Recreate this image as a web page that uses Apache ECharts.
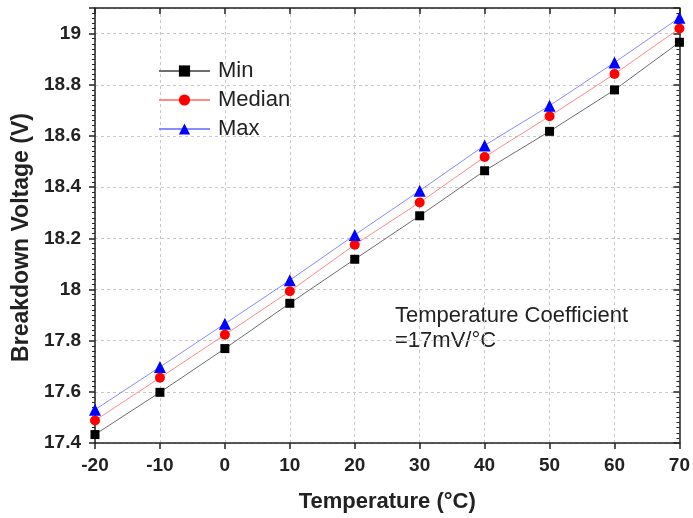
<!DOCTYPE html>
<html>
<head>
<meta charset="utf-8">
<script src="https://cdn.jsdelivr.net/npm/echarts@6/dist/echarts.min.js"></script>
<style>html,body{margin:0;padding:0;background:#fff}#c{width:693px;height:518px}</style>
</head>
<body>
<div id="c"></div>
<script>
var temperatures = [-20, -10, 0, 10, 20, 30, 40, 50, 60, 70];
var minValues    = [17.433, 17.598, 17.769, 17.946, 18.118, 18.288, 18.464, 18.618, 18.780, 18.966];
var medianValues = [17.488, 17.655, 17.823, 17.993, 18.175, 18.340, 18.518, 18.677, 18.842, 19.020];
var maxValues    = [17.530, 17.697, 17.866, 18.036, 18.213, 18.386, 18.563, 18.718, 18.887, 19.062];
var seriesNames = ['Min', 'Median', 'Max'];
var annotationLines = ['Temperature Coefficient', '=17mV/°C'];

function pairs(vals) { return temperatures.map(function (t, i) { return [t, vals[i]]; }); }

var font = 'Liberation Sans, Arial, sans-serif';
var chart = echarts.init(document.getElementById('c'));
var yFmt = function (v) {
  var k = Math.round(v / 0.2);
  if (Math.abs(v - k * 0.2) > 1e-6) return '';
  return String(parseFloat(v.toFixed(1)));
};
var gridLine = { show: true, lineStyle: { color: '#c8c8c8', type: [3, 3], width: 1 } };
chart.setOption({
  animation: false,
  backgroundColor: '#fff',
  grid: { left: 95, right: 12, top: 8, bottom: 71, show: false },
  legend: {
    orient: 'vertical', left: 153, top: 55,
    itemWidth: 51, itemHeight: 14, itemGap: 7,
    textStyle: { fontFamily: font, fontSize: 22, color: '#222', padding: [0, 0, 0, 3] },
    data: seriesNames
  },
  xAxis: [{
    type: 'value', min: -20, max: 70, interval: 10, position: 'bottom',
    name: 'Temperature (°C)', nameLocation: 'middle', nameGap: 48,
    nameTextStyle: { fontFamily: font, fontSize: 22, fontWeight: 'bold', color: '#222' },
    axisLine: { show: true, onZero: false, lineStyle: { color: '#222', width: 1.5 } },
    axisTick: { show: true, inside: false, length: 6, lineStyle: { color: '#222', width: 1.5 } },
    axisLabel: { margin: 13, fontFamily: font, fontSize: 19, fontWeight: 'bold', color: '#222' },
    splitLine: gridLine
  }, {
    type: 'value', min: -20, max: 70, interval: 10, position: 'top',
    axisLine: { show: true, onZero: false, lineStyle: { color: '#222', width: 1.5 } },
    axisTick: { show: true, inside: true, length: 6, lineStyle: { color: '#222', width: 1.5 } },
    axisLabel: { show: false }, splitLine: { show: false }
  }],
  yAxis: [{
    type: 'value', min: 17.4, max: 19.1, interval: 0.2, position: 'left',
    name: 'Breakdown Voltage (V)', nameLocation: 'middle', nameGap: 59,
    nameTextStyle: { fontFamily: font, fontSize: 23, fontWeight: 'bold', color: '#222', padding: [0, 24, 0, 0] },
    axisLine: { show: true, onZero: false, lineStyle: { color: '#222', width: 1.5 } },
    axisTick: { show: true, inside: false, length: 6, lineStyle: { color: '#222', width: 1.5 } },
    minorTick: { show: true, splitNumber: 10, length: 3, lineStyle: { color: '#222', width: 1 } },
    axisLabel: { margin: 14, fontFamily: font, fontSize: 19, fontWeight: 'bold', color: '#222', formatter: yFmt, showMaxLabel: false },
    splitLine: gridLine
  }, {
    type: 'value', min: 17.4, max: 19.1, interval: 0.2, position: 'right',
    axisLine: { show: true, onZero: false, lineStyle: { color: '#222', width: 1.5 } },
    axisTick: { show: true, inside: true, length: 6, lineStyle: { color: '#222', width: 1.5 } },
    minorTick: { show: true, splitNumber: 10, length: 3, lineStyle: { color: '#222', width: 1 } },
    axisLabel: { show: false }, splitLine: { show: false }
  }],
  graphic: [{
    type: 'text', left: 395, top: 303,
    style: { text: annotationLines.join('\n'), fontFamily: font, fontSize: 22, lineHeight: 25, fill: '#222' }
  }],
  series: [{
    name: seriesNames[0], type: 'line', data: pairs(minValues),
    symbol: 'rect', symbolSize: 9,
    itemStyle: { color: '#000' }, lineStyle: { color: '#6e6e6e', width: 1 }
  }, {
    name: seriesNames[1], type: 'line', data: pairs(medianValues),
    symbol: 'circle', symbolSize: 10,
    itemStyle: { color: '#ff0000' }, lineStyle: { color: '#ff8a8a', width: 1 }
  }, {
    name: seriesNames[2], type: 'line', data: pairs(maxValues),
    symbol: 'triangle', symbolSize: 12,
    itemStyle: { color: '#0000ff' }, lineStyle: { color: '#8a8aff', width: 1 }
  }]
});
</script>
</body>
</html>
